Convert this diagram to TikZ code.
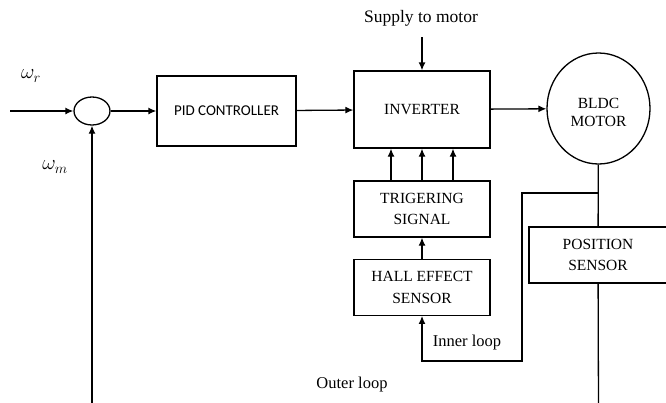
\documentclass[tikz,border=0pt]{standalone}
\usepackage{fontspec}
\setmainfont{Liberation Serif}
\newfontfamily\pidfont{Carlito}
\usepackage{tikz}
\usetikzlibrary{arrows.meta,positioning,shapes.geometric}

\begin{document}
\begin{tikzpicture}[
    x=1pt, y=-1pt,
    line width=1.3pt,
    block/.style={
        draw,
        align=center,
        minimum width=136pt,
        minimum height=56pt,
        font=\fontsize{15.5}{21.5}\selectfont
    },
    label/.style={font=\fontsize{16.5}{19}\selectfont},
    arrow/.style={-{Latex[length=8pt,width=7pt]}}
]

\clip (0,0) rectangle (666,402);

\node[draw, ellipse, minimum width=36pt, minimum height=28pt, inner sep=0pt] (sum) at (92,111) {};
\node[draw, minimum width=139pt, minimum height=70pt,
      font=\pidfont\fontsize{15}{18}\selectfont] (pid) at (226.5,111) {PID CONTROLLER};

\node[block, minimum height=77pt] (inv) at (422,109.5) {INVERTER};
\node[block] (trig) at (422,209) {TRIGERING\\SIGNAL};
\node[block, below=21pt of trig] (hall) {HALL EFFECT\\SENSOR};

\node[draw, ellipse, minimum width=103pt, minimum height=111pt, inner sep=0pt,
      font=\fontsize{15.5}{18}\selectfont] (motor) at (598.5,108.5)
      {\raisebox{-5pt}[\height][\depth]{\begin{tabular}{@{}c@{}}BLDC\\MOTOR\end{tabular}}};
\node[block, minimum width=138pt] (pos) at (598,255) {POSITION\\SENSOR};

\node[font=\fontsize{20}{22}\selectfont] (wr) at (31,76) {$\omega_r$};
\node[font=\fontsize{20}{22}\selectfont] (wm) at (55,167) {$\omega_m$};
\node[label, font=\fontsize{17.5}{20}\selectfont] (supply) at (421,18) {Supply to motor};
\node[label] (inner) at (467,343) {Inner loop};
\node[label] (outer) at (352,385) {Outer loop};

\coordinate (in) at (10,111);
\coordinate (fb) at (92,410);
\coordinate (top) at (422,37);
\coordinate (tap) at (598.5,193);
\coordinate (bend) at (522,361);
\coordinate (end) at (598.5,410);

\draw[arrow] (in) -- (sum);
\draw[arrow] (fb) -- (sum);
\draw[arrow] (sum) -- (pid);
\draw[arrow] (pid) -- (inv);
\draw[arrow] (top) -- (inv);
\draw[arrow] (inv) -- (motor);
\foreach \dx in {-31,0,31}
    \draw[arrow] ([xshift=\dx pt]trig.north) -- ([xshift=\dx pt]inv.south);
\draw[arrow] (hall) -- (trig);

\draw (motor) -- (pos);
\draw (pos) -- (end);
\draw[arrow] (tap) -| (bend) -| (hall.south);

\end{tikzpicture}
\end{document}
